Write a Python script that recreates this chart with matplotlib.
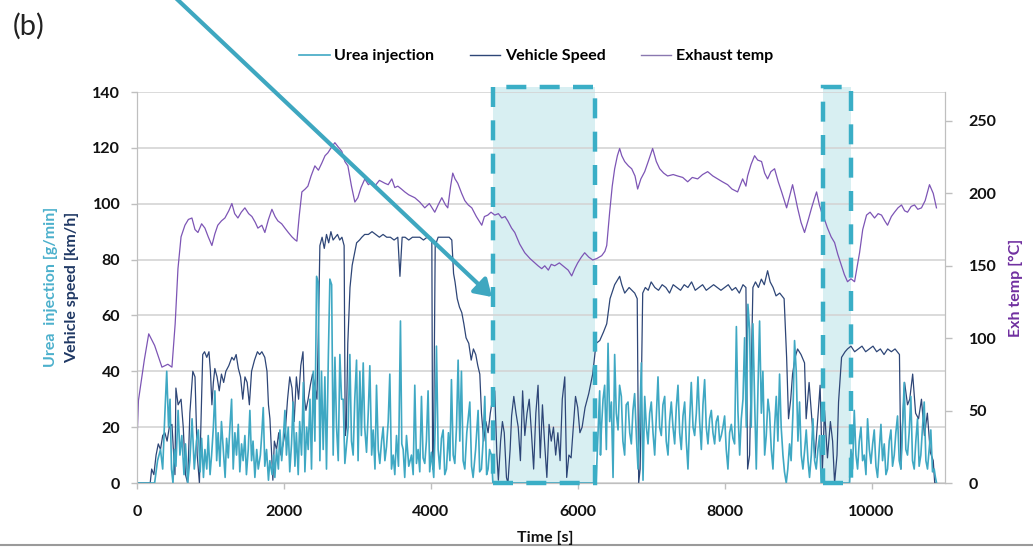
import matplotlib
matplotlib.use("Agg")
import matplotlib.pyplot as plt
from matplotlib.patches import Rectangle, FancyArrowPatch
from matplotlib.lines import Line2D

plt.rcParams['font.family'] = ['Lato', 'DejaVu Sans']

# --- data: (time [s], value) ---
urea_points = [
    (0, 0), (240, 0), (280, 8), (320, 12), (350, 5), (380, 25), (405, 40), (430, 20), (450, 30), (470, 5),
    (490, 0), (510, 12), (530, 6), (560, 26), (585, 10), (610, 17), (640, 3), (660, 14), (690, 0), (720, 8),
    (750, 23), (780, 5), (810, 15), (835, 19), (860, 4), (880, 16), (905, 2), (925, 12), (950, 5), (970, 17),
    (995, 3), (1016, 10), (1040, 20), (1061, 33), (1085, 8), (1105, 18), (1129, 6), (1150, 22), (1175, 12),
    (1200, 2), (1220, 16), (1243, 9), (1265, 20), (1288, 30), (1310, 5), (1333, 18), (1355, 10), (1379, 21),
    (1400, 4), (1424, 14), (1445, 8), (1469, 17), (1490, 3), (1515, 12), (1537, 26), (1560, 8), (1580, 15),
    (1605, 2), (1630, 12), (1651, 5), (1680, 10), (1700, 18), (1719, 27), (1740, 6), (1764, 12), (1790, 1),
    (1809, 8), (1840, 3), (1860, 10), (1877, 2), (1900, 12), (1925, 5), (1946, 19), (1970, 8), (1990, 15),
    (2014, 26), (2035, 10), (2059, 20), (2080, 4), (2104, 14), (2125, 29), (2150, 6), (2170, 18), (2195, 3),
    (2215, 22), (2240, 10), (2265, 36), (2286, 4), (2310, 20), (2331, 12), (2355, 30), (2376, 5), (2400, 40),
    (2422, 15), (2445, 74), (2467, 72), (2490, 8), (2512, 40), (2535, 12), (2558, 38), (2580, 5), (2605, 45),
    (2626, 73), (2650, 71), (2671, 10), (2695, 45), (2717, 20), (2740, 8), (2762, 46), (2785, 30), (2807, 30),
    (2830, 7), (2875, 20), (2898, 46), (2920, 15), (2943, 10), (2965, 30), (2989, 44), (3010, 8), (3034, 40),
    (3055, 17), (3080, 43), (3100, 20), (3125, 11), (3148, 25), (3170, 42), (3195, 10), (3215, 19), (3240, 5),
    (3261, 35), (3285, 12), (3306, 7), (3330, 15), (3351, 20), (3375, 8), (3397, 13), (3420, 22), (3442, 39),
    (3465, 5), (3488, 10), (3510, 3), (3533, 17), (3560, 6), (3587, 58), (3605, 14), (3624, 12), (3645, 2),
    (3669, 17), (3700, 6), (3737, 10), (3760, 3), (3782, 35), (3805, 7), (3827, 12), (3850, 4), (3873, 31),
    (3895, 9), (3918, 7), (3940, 15), (3963, 33), (3985, 4), (4009, 11), (4040, 2), (4060, 20), (4077, 49),
    (4100, 12), (4122, 5), (4145, 16), (4168, 19), (4190, 3), (4213, 5), (4240, 18), (4260, 8), (4281, 37),
    (4305, 10), (4327, 7), (4350, 20), (4372, 44), (4395, 15), (4417, 40), (4440, 8), (4463, 5), (4490, 18),
    (4531, 29), (4555, 6), (4576, 2), (4610, 12), (4644, 26), (4665, 4), (4689, 5), (4710, 14), (4735, 31),
    (4760, 3), (4780, 5), (4800, 12), (4825, 10), (4845, 0),
    (6250, 0), (6280, 20), (6299, 33), (6310, 10), (6322, 19), (6345, 30), (6367, 35), (6390, 12), (6413, 50),
    (6435, 22), (6458, 29), (6481, 2), (6503, 46), (6525, 25), (6549, 19), (6570, 35), (6594, 31), (6615, 15),
    (6639, 10), (6660, 28), (6685, 29), (6708, 18), (6730, 14), (6752, 26), (6775, 32), (6800, 16), (6821, 5),
    (6845, 22), (6866, 43), (6889, 1), (6912, 31), (6935, 20), (6957, 14), (6980, 25), (7002, 29), (7025, 18),
    (7048, 10), (7070, 24), (7093, 38), (7115, 20), (7138, 17), (7160, 28), (7184, 31), (7205, 15), (7229, 10),
    (7250, 22), (7274, 29), (7297, 20), (7320, 14), (7342, 27), (7365, 35), (7388, 18), (7410, 12), (7433, 24),
    (7456, 29), (7478, 15), (7501, 5), (7523, 22), (7546, 36), (7570, 20), (7592, 17), (7615, 25), (7637, 38),
    (7660, 22), (7683, 12), (7705, 28), (7728, 37), (7750, 20), (7773, 14), (7796, 23), (7819, 26), (7841, 18),
    (7864, 14), (7886, 22), (7909, 24), (7932, 15), (7955, 17), (7977, 20), (8000, 24), (8022, 12), (8045, 5),
    (8068, 18), (8091, 21), (8113, 16), (8136, 14), (8160, 56), (8181, 26), (8205, 10), (8227, 23), (8250, 30),
    (8272, 52), (8295, 20), (8317, 64), (8340, 55), (8362, 20), (8385, 57), (8408, 30), (8431, 5), (8455, 35),
    (8476, 58), (8500, 25), (8521, 40), (8545, 10), (8567, 17), (8590, 30), (8612, 25), (8635, 12), (8658, 5),
    (8680, 20), (8703, 31), (8725, 15), (8748, 39), (8770, 20), (8794, 10), (8815, 4), (8839, 0), (8860, 5),
    (8884, 14), (8905, 8), (8930, 25), (8952, 51), (8975, 40), (8998, 15), (9020, 29), (9043, 10), (9066, 5),
    (9090, 12), (9111, 19), (9135, 8), (9156, 2), (9180, 10), (9202, 23), (9225, 8), (9247, 5), (9270, 12),
    (9293, 17), (9315, 0),
    (9700, 0), (9720, 12), (9742, 5), (9765, 26), (9788, 10), (9810, 5), (9833, 15), (9856, 20), (9878, 8),
    (9901, 10), (9924, 3), (9946, 23), (9970, 12), (9992, 7), (10015, 14), (10037, 19), (10060, 6), (10082, 2),
    (10105, 12), (10128, 21), (10150, 8), (10173, 14), (10196, 3), (10218, 5), (10241, 15), (10264, 19),
    (10286, 6), (10309, 10), (10331, 18), (10354, 24), (10377, 8), (10400, 5), (10422, 20), (10445, 36),
    (10467, 12), (10490, 10), (10512, 18), (10535, 31), (10558, 8), (10581, 5), (10603, 15), (10626, 23),
    (10648, 6), (10671, 10), (10694, 20), (10717, 29), (10740, 8), (10762, 5), (10785, 12), (10807, 19),
    (10830, 4), (10853, 5), (10870, 2), (10885, 0),
]

speed_points = [
    (0, 0), (180, 0), (200, 5), (230, 3), (260, 10), (290, 14), (320, 12), (350, 17), (380, 18), (410, 15),
    (440, 20), (476, 21), (500, 10), (517, 3), (530, 34), (560, 28), (600, 30), (630, 20), (660, 3), (690, 0),
    (720, 25), (760, 40), (790, 38), (820, 10), (850, 0), (870, 20), (895, 46), (920, 47), (950, 45), (980, 47),
    (1000, 40), (1020, 28), (1040, 36), (1060, 41), (1090, 38), (1120, 33), (1150, 39), (1180, 36), (1210, 40),
    (1250, 42), (1292, 45), (1320, 44), (1350, 46), (1380, 41), (1410, 38), (1440, 30), (1470, 38), (1500, 36),
    (1530, 28), (1560, 40), (1600, 44), (1640, 47), (1670, 46), (1700, 47), (1740, 45), (1770, 40), (1790, 28),
    (1810, 23), (1830, 12), (1850, 1), (1870, 15), (1900, 12), (1930, 18), (1960, 10), (1990, 14), (2020, 19),
    (2050, 30), (2080, 38), (2110, 34), (2140, 22), (2170, 38), (2200, 30), (2230, 42), (2260, 47), (2280, 30),
    (2300, 26), (2330, 30), (2360, 35), (2390, 39), (2420, 35), (2450, 30), (2470, 55), (2490, 85), (2520, 88),
    (2550, 84), (2580, 89), (2610, 86), (2640, 90), (2670, 87), (2700, 88), (2730, 89), (2760, 87), (2790, 88),
    (2820, 85), (2835, 17), (2850, 20), (2870, 50), (2900, 70), (2930, 78), (2960, 82), (2990, 86), (3030, 87),
    (3061, 88), (3100, 89), (3150, 89), (3200, 90), (3250, 89), (3300, 88), (3350, 89), (3400, 88), (3450, 88),
    (3500, 87), (3551, 88), (3580, 74), (3610, 88), (3650, 88), (3700, 87), (3750, 88), (3800, 88), (3850, 88),
    (3900, 87), (3950, 88), (4000, 88), (4014, 87), (4025, 5), (4040, 20), (4060, 85), (4100, 88), (4150, 88),
    (4200, 88), (4250, 88), (4286, 87), (4310, 75), (4330, 72), (4360, 66), (4390, 63), (4422, 61), (4450, 57),
    (4480, 52), (4517, 50), (4550, 44), (4580, 48), (4612, 46), (4640, 42), (4667, 39), (4690, 25), (4720, 15),
    (4750, 22), (4780, 18), (4810, 25), (4840, 30), (4870, 33), (4900, 10), (4920, 1), (4950, 15), (4975, 22),
    (5000, 18), (5030, 2), (5050, 0), (5080, 12), (5100, 24), (5130, 31), (5160, 25), (5190, 20), (5220, 8),
    (5250, 33), (5280, 17), (5310, 25), (5340, 30), (5370, 18), (5400, 5), (5430, 25), (5460, 35), (5490, 9),
    (5520, 28), (5550, 14), (5580, 2), (5610, 21), (5640, 15), (5670, 20), (5700, 10), (5730, 18), (5760, 8),
    (5790, 30), (5824, 38), (5850, 2), (5880, 10), (5910, 9), (5940, 20), (5970, 31), (6000, 27), (6030, 18),
    (6060, 20), (6100, 27), (6150, 32), (6204, 39), (6250, 50), (6300, 51), (6350, 54), (6395, 57), (6440, 66),
    (6503, 71), (6571, 74), (6600, 71), (6640, 68), (6700, 70), (6776, 68), (6810, 66), (6830, 0), (6850, 5),
    (6885, 68), (6920, 70), (6960, 69), (7000, 72), (7050, 70), (7100, 69), (7150, 71), (7200, 70), (7250, 68),
    (7300, 71), (7350, 70), (7400, 69), (7450, 71), (7500, 70), (7550, 72), (7600, 69), (7650, 70), (7700, 71),
    (7750, 69), (7800, 70), (7850, 71), (7900, 70), (7950, 69), (8000, 70), (8050, 71), (8100, 69), (8150, 70),
    (8200, 68), (8250, 71), (8290, 70), (8313, 5), (8340, 10), (8385, 70), (8420, 72), (8460, 70), (8500, 73),
    (8540, 71), (8585, 76), (8620, 72), (8660, 70), (8700, 67), (8750, 68), (8810, 66), (8844, 45), (8870, 23),
    (8900, 30), (8925, 39), (8960, 45), (8993, 48), (9040, 46), (9088, 43), (9110, 23), (9150, 36), (9190, 22),
    (9230, 9), (9260, 20), (9300, 35), (9330, 4), (9360, 26), (9400, 9), (9440, 22), (9470, 15), (9497, 0),
    (9530, 10), (9551, 29), (9592, 45), (9640, 47), (9673, 48), (9720, 49), (9770, 47), (9820, 48), (9870, 49),
    (9920, 47), (9970, 48), (10020, 49), (10070, 47), (10120, 48), (10170, 46), (10220, 48), (10270, 47),
    (10320, 48), (10380, 46), (10400, 5), (10420, 20), (10450, 36), (10490, 28), (10520, 30), (10560, 39),
    (10600, 25), (10640, 23), (10680, 30), (10720, 17), (10760, 25), (10800, 11), (10840, 8), (10860, 0),
    (10880, 0),
]

temp_points = [
    (0, 28), (20, 57), (100, 85), (160, 103), (240, 95), (340, 80), (420, 82), (476, 80), (520, 110), (558, 148),
    (600, 170), (653, 178), (700, 182), (748, 183), (790, 175), (830, 173), (880, 179), (925, 176), (970, 170),
    (1020, 164), (1060, 172), (1100, 178), (1150, 181), (1197, 183), (1250, 188), (1292, 193), (1330, 186),
    (1374, 183), (1420, 187), (1469, 190), (1520, 186), (1565, 184), (1610, 180), (1646, 176), (1700, 178),
    (1741, 173), (1790, 182), (1837, 189), (1880, 184), (1918, 181), (1970, 179), (2014, 176), (2060, 173),
    (2109, 170), (2150, 168), (2177, 167), (2210, 185), (2245, 201), (2290, 203), (2327, 205), (2370, 212),
    (2422, 219), (2470, 216), (2517, 221), (2560, 226), (2599, 228), (2650, 232), (2694, 235), (2740, 232),
    (2789, 229), (2830, 222), (2871, 219), (2920, 205), (2966, 194), (3007, 197), (3050, 204), (3102, 210),
    (3150, 206), (3200, 208), (3238, 205), (3300, 209), (3374, 207), (3420, 206), (3469, 210), (3510, 204),
    (3551, 205), (3600, 203), (3646, 201), (3700, 199), (3782, 197), (3850, 194), (3918, 190), (3980, 193),
    (4054, 187), (4100, 192), (4150, 197), (4200, 192), (4231, 190), (4270, 205), (4299, 214), (4330, 210),
    (4367, 207), (4420, 200), (4463, 195), (4510, 192), (4558, 190), (4620, 184), (4694, 178), (4730, 184),
    (4776, 185), (4820, 187), (4871, 185), (4920, 186), (4966, 183), (5010, 184), (5048, 181), (5100, 176),
    (5143, 173), (5210, 165), (5279, 159), (5350, 155), (5415, 152), (5460, 150), (5510, 148), (5551, 150),
    (5600, 147), (5640, 151), (5687, 150), (5750, 152), (5823, 149), (5870, 147), (5918, 143), (5960, 148),
    (6000, 152), (6050, 156), (6095, 159), (6150, 156), (6204, 154), (6260, 155), (6327, 157), (6370, 160),
    (6395, 164), (6435, 187), (6470, 205), (6503, 217), (6540, 226), (6571, 231), (6600, 226), (6639, 222),
    (6690, 219), (6735, 217), (6780, 212), (6816, 203), (6860, 210), (6912, 215), (6960, 222), (7020, 231),
    (7070, 222), (7116, 217), (7170, 214), (7224, 212), (7300, 213), (7361, 212), (7430, 211), (7497, 208),
    (7560, 211), (7633, 210), (7700, 213), (7769, 215), (7840, 212), (7905, 210), (7970, 208), (8041, 206),
    (8100, 203), (8177, 201), (8245, 210), (8290, 205), (8313, 212), (8360, 220), (8408, 226), (8450, 223),
    (8503, 222), (8545, 214), (8585, 210), (8630, 215), (8680, 217), (8730, 208), (8776, 201), (8844, 190),
    (8890, 199), (8925, 206), (8960, 198), (8993, 190), (9040, 180), (9088, 173), (9140, 182), (9184, 190),
    (9220, 196), (9252, 201), (9290, 192), (9320, 187), (9360, 182), (9401, 176), (9450, 170), (9497, 166),
    (9540, 158), (9592, 150), (9630, 144), (9673, 139), (9720, 141), (9769, 139), (9800, 148), (9837, 159),
    (9880, 175), (9932, 185), (9980, 187), (10041, 183), (10090, 186), (10136, 185), (10180, 181), (10218, 178),
    (10270, 184), (10313, 187), (10360, 190), (10408, 192), (10450, 188), (10490, 187), (10540, 191),
    (10585, 192), (10630, 189), (10680, 190), (10730, 195), (10789, 206), (10840, 200), (10884, 190),
]

# time windows marked with dashed boxes
highlight_windows = [(4845, 6235), (9338, 9714)]

x_ticks = [0, 2000, 4000, 6000, 8000, 10000]
left_ticks = [0, 20, 40, 60, 80, 100, 120, 140]
right_ticks = [0, 50, 100, 150, 200, 250]

# --- colours ---
COL_UREA = '#3fa8c3'
COL_SPEED = '#2e4677'
COL_TEMP = '#7d55b5'
COL_BOX = '#3aaec6'
COL_FILL = '#d8eff2'
COL_GRID = '#d4d4d4'
COL_AXIS = '#bfbfbf'

fig = plt.figure(figsize=(10.33, 5.47), dpi=100)
ax = fig.add_axes([0.1326, 0.117, 0.7822, 0.7148])
ax2 = ax.twinx()

ut, uv = zip(*urea_points)
st, sv = zip(*speed_points)
tt, tv = zip(*temp_points)

# shaded windows (behind lines)
for x0, x1 in highlight_windows:
    ax.add_patch(Rectangle((x0, 0), x1 - x0, 141.8, facecolor=COL_FILL,
                           edgecolor='none', zorder=0.5, clip_on=False))

ax.plot(st, sv, color=COL_SPEED, lw=0.9, zorder=2)
ax.plot(ut, uv, color=COL_UREA, lw=1.2, zorder=3)
ax2.plot(tt, tv, color=COL_TEMP, lw=0.9, zorder=2)

# dashed borders drawn on top
for x0, x1 in highlight_windows:
    ax2.add_patch(Rectangle((x0, 0), x1 - x0, 141.8 * 270 / 140, facecolor='none',
                            edgecolor=COL_BOX, lw=3.2, linestyle=(0, (4.5, 3.0)),
                            zorder=5, clip_on=False))

ax.set_xlim(0, 11000)
ax.set_ylim(0, 140)
ax2.set_ylim(0, 270)

ax.set_xticks(x_ticks)
ax.set_yticks(left_ticks)
ax2.set_yticks(right_ticks)

ax.grid(axis='y', color=COL_GRID, lw=1.2)
ax.set_axisbelow(True)

for a in (ax, ax2):
    for side in ('left', 'right', 'bottom', 'top'):
        a.spines[side].set_color(COL_AXIS)
    a.spines['top'].set_visible(False)

ax.tick_params(axis='both', colors=COL_AXIS, length=4, width=1)
ax.tick_params(axis='y', pad=8)
ax.tick_params(axis='x', pad=12)
ax2.tick_params(axis='y', colors=COL_AXIS, length=5, width=1, pad=12)

for lab in ax.get_xticklabels() + ax.get_yticklabels() + ax2.get_yticklabels():
    lab.set_color('#111111')
    lab.set_fontweight('bold')
    lab.set_fontsize(11.5)

fig.text(0.528, 0.016, 'Time [s]', ha='center', va='center',
         fontsize=11.5, fontweight='bold', color='#111111')
fig.text(0.049, 0.475, 'Urea  injection [g/min]', rotation=90, ha='center', va='center',
         fontsize=11.5, fontweight='bold', color='#4bb0cc')
fig.text(0.070, 0.475, 'Vehicle speed [km/h]', rotation=90, ha='center', va='center',
         fontsize=11.5, fontweight='bold', color='#1f3864')
fig.text(0.983, 0.473, 'Exh temp [\u00b0C]', rotation=90, ha='center', va='center',
         fontsize=11.5, fontweight='bold', color='#7030a0')

fig.text(0.012, 0.952, '(b)', ha='left', va='center', fontsize=21, color='#222222')

# legend
handles = [Line2D([], [], color=COL_UREA, lw=1.2),
           Line2D([], [], color=COL_SPEED, lw=1.0),
           Line2D([], [], color='#8a78b0', lw=1.0)]
fig.legend(handles, ['Urea injection', 'Vehicle Speed', 'Exhaust temp'],
           loc='center', bbox_to_anchor=(0.519, 0.897), ncol=3, frameon=False,
           handlelength=1.9, handletextpad=0.3, columnspacing=2.2,
           prop={'weight': 'bold', 'size': 11.5})

# big pointer arrow
arrow = FancyArrowPatch((175 / 1033, 1.005), (492 / 1033, 1 - 297 / 547),
                        transform=fig.transFigure, arrowstyle='-|>,head_length=1.1,head_width=0.7',
                        mutation_scale=9, color='#3ea7c0', lw=3.0, zorder=10,
                        shrinkA=0, shrinkB=0)
fig.add_artist(arrow)

# thin frame line at the very bottom
fig.add_artist(Line2D([0, 1], [0.004, 0.004], transform=fig.transFigure, color='#9a9a9a', lw=1.5))

fig.savefig('out.png', dpi=100)
